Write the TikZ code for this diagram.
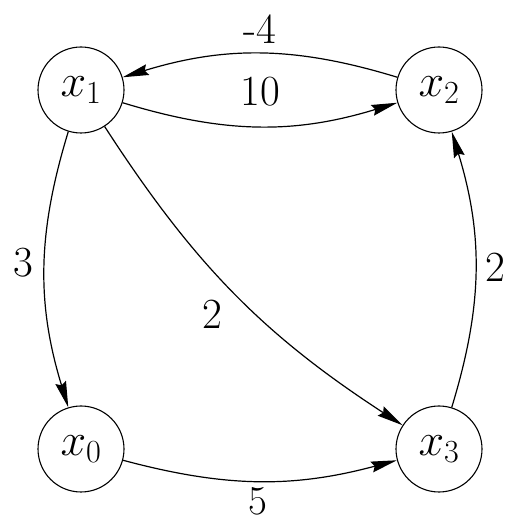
\RequirePackage{fix-cm}
\documentclass[tikz,border=0pt]{standalone}
\usetikzlibrary{arrows.meta}
\begin{document}
\begin{tikzpicture}[x=1pt,y=1pt,
  vert/.style={draw,circle,line width=1.1pt,minimum size=86pt,inner sep=0pt,font=\fontsize{46}{52}\selectfont},
  edge/.style={line width=1.2pt,-{Stealth[length=26pt,width=11pt,inset=3pt]}},
  lab/.style={font=\fontsize{43}{50}\selectfont,inner sep=0pt},
  labsm/.style={font=\fontsize{41}{48}\selectfont,inner sep=0pt}]
\useasboundingbox (0,0) rectangle (512,522);
\node[vert] (x1) at (81,432) {$x_1$};
\node[vert] (x2) at (439,432) {$x_2$};
\node[vert] (x0) at (81,73) {$x_0$};
\node[vert] (x3) at (439,73) {$x_3$};
\draw[edge] (x2) to[bend right=17] (x1);
\draw[edge] (x1) to[bend right=17] (x2);
\draw[edge] (x1) to[bend right=17] (x0);
\draw[edge] (x3) to[bend right=17] (x2);
\draw[edge] (x0) to[bend right=15] (x3);
\draw[edge] (x1) to[bend right=12] (x3);
\node[lab] (lm4) at (260,493) {-4};
\node[lab] (l10) at (260,430) {10};
\node[lab] (l3) at (23,259) {3};
\node[lab] (l2r) at (495,255) {2};
\node[lab] (l2d) at (212,208) {2};
\node[labsm] (l5) at (258,21) {5};
\end{tikzpicture}
\end{document}
